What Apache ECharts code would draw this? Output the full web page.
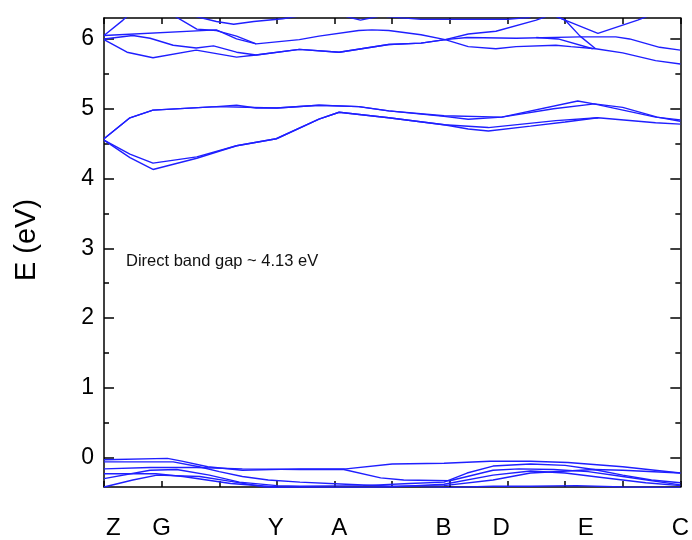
<!DOCTYPE html>
<html>
<head>
<meta charset="utf-8">
<script src="https://cdn.jsdelivr.net/npm/echarts@6/dist/echarts.min.js"></script>
<style>
  html, body { margin: 0; padding: 0; background: #fff; }
  #chart { width: 692px; height: 540px; }
</style>
</head>
<body>
<div id="chart"></div>
<script>
// high symmetry points along the k path (x = path coordinate)
var kLabels = ['Z', 'G', 'Y', 'A', 'B', 'D', 'E', 'C'];
var kPos = [0.16, 1.0, 2.98, 4.08, 5.89, 6.89, 8.36, 10];
var xTicks = [0, 1, 2, 3, 4, 5, 6, 7, 8, 9, 10];
var yMajor = [0, 1, 2, 3, 4, 5, 6];
var yMinor = [0.5, 1.5, 2.5, 3.5, 4.5, 5.5];
var gapText = 'Direct band gap ~ 4.13 eV';

// bands as [k, E (eV)]
// upper conduction bands
var bandC1 = [[0, 6.05], [1.95, 6.13], [2.3, 6.0], [2.64, 5.93], [3.39, 5.99], [3.73, 6.04], [4.42, 6.12], [4.65, 6.13], [4.94, 6.12], [5.5, 6.06], [5.92, 5.99], [6.32, 6.07], [6.8, 6.11], [7.5, 6.27], [7.8, 6.36]];
var bandC2 = [[0, 5.99], [0.4, 5.81], [0.85, 5.73], [1.6, 5.84], [2.3, 5.74], [2.64, 5.77], [3.39, 5.85], [4.08, 5.81], [4.94, 5.92], [5.5, 5.94], [5.92, 5.99], [6.32, 5.89], [6.8, 5.86], [7.15, 5.89], [7.84, 5.91], [8.1, 5.89], [8.53, 5.86], [9.0, 5.80], [9.57, 5.69], [10, 5.64]];
var bandC3 = [[0, 6.0], [0.5, 6.05], [0.8, 6.01], [1.2, 5.91], [1.6, 5.87], [1.9, 5.9], [2.3, 5.81], [2.64, 5.77], [3.39, 5.85], [4.08, 5.81], [4.94, 5.92], [5.5, 5.94], [5.92, 5.99], [6.3, 6.02], [7.15, 6.01], [8.26, 6.03], [8.88, 6.03], [9.12, 6.0], [9.64, 5.88], [10, 5.84]];
var bandC4 = [[0, 6.05], [0.33, 6.27], [0.5, 6.4]];
var bandC5 = [[1.2, 6.34], [1.61, 6.14], [1.95, 6.12], [2.3, 6.04], [2.64, 5.93]];
var bandC6 = [[1.5, 6.34], [1.95, 6.25], [2.25, 6.21], [2.6, 6.25], [3.1, 6.29], [3.4, 6.33]];
var bandC7 = [[4.2, 6.32], [4.45, 6.27], [4.75, 6.32]];
var bandC8 = [[4.9, 6.32], [5.5, 6.28], [6.0, 6.28], [7.0, 6.28], [7.4, 6.31]];
var bandC9 = [[7.6, 6.4], [8.0, 6.27], [8.57, 6.08], [9.26, 6.27], [9.6, 6.38]];
var bandC10 = [[7.75, 6.36], [8.0, 6.27], [8.26, 6.04], [8.53, 5.86]];
var bandC11 = [[7.5, 6.02], [7.88, 6.0], [8.48, 5.86]];
// lowest conduction bands
var bandM1 = [[0, 4.57], [0.45, 4.87], [0.85, 4.98], [1.95, 5.03], [3.0, 5.01], [3.73, 5.05], [4.42, 5.03], [4.94, 4.97], [5.9, 4.90], [6.9, 4.88], [8.22, 5.11], [8.5, 5.07], [9.57, 4.88], [10, 4.84]];
var bandM2 = [[0, 4.57], [0.45, 4.87], [0.85, 4.98], [1.95, 5.03], [2.3, 5.05], [2.64, 5.01], [3.0, 5.01], [3.73, 5.05], [4.42, 5.03], [4.94, 4.97], [5.9, 4.89], [6.32, 4.85], [6.9, 4.88], [7.8, 5.0], [8.51, 5.07], [9.0, 5.02], [9.6, 4.88], [10, 4.82]];
var bandM3 = [[0, 4.55], [0.45, 4.30], [0.85, 4.13], [1.61, 4.29], [2.3, 4.47], [2.99, 4.57], [3.73, 4.85], [4.08, 4.95], [4.94, 4.87], [5.9, 4.77], [6.67, 4.73], [7.84, 4.83], [8.57, 4.87], [9.57, 4.80], [10, 4.78]];
var bandM4 = [[0, 4.55], [0.45, 4.35], [0.85, 4.22], [1.61, 4.31], [2.3, 4.47], [2.99, 4.57], [3.73, 4.85], [4.08, 4.95], [4.94, 4.87], [5.9, 4.77], [6.32, 4.71], [6.67, 4.68], [7.4, 4.75], [8.0, 4.81], [8.57, 4.87]];
// valence bands
var bandV1 = [[0, -0.03], [1.1, -0.01], [1.35, -0.05], [1.8, -0.13], [2.4, -0.18], [3.4, -0.16], [4.2, -0.16], [5.0, -0.09], [5.9, -0.08], [6.7, -0.05], [7.4, -0.05], [8.05, -0.07], [9.0, -0.13], [10, -0.22]];
var bandV2 = [[0, -0.06], [1.2, -0.06], [1.65, -0.13], [2.0, -0.2], [2.4, -0.27], [2.85, -0.32], [3.4, -0.35], [4.2, -0.38], [5.0, -0.41], [5.9, -0.40], [6.75, -0.32], [7.4, -0.22], [8.05, -0.19], [8.5, -0.17], [9.0, -0.18], [10, -0.22]];
var bandV3 = [[0, -0.16], [0.8, -0.14], [1.6, -0.14], [2.4, -0.16], [3.4, -0.17], [4.16, -0.17], [4.8, -0.29], [5.2, -0.32], [6.0, -0.33], [6.75, -0.18], [7.2, -0.16], [7.8, -0.17], [8.4, -0.2], [9.0, -0.27], [10, -0.39]];
var bandV4 = [[0, -0.30], [0.8, -0.18], [1.26, -0.17], [1.83, -0.25], [2.35, -0.35], [3.0, -0.40], [3.4, -0.41], [4.5, -0.40], [5.3, -0.37], [5.9, -0.35], [6.3, -0.22], [6.75, -0.12], [7.4, -0.09], [8.0, -0.11], [8.5, -0.17], [9.0, -0.25], [9.5, -0.32], [10, -0.36]];
var bandV5 = [[0, -0.23], [0.9, -0.23], [1.37, -0.27], [2.2, -0.37], [3.0, -0.42], [4.0, -0.43], [5.0, -0.42], [5.9, -0.38], [6.75, -0.25], [7.4, -0.19], [8.0, -0.22], [8.6, -0.28], [9.4, -0.36], [10, -0.40]];
var bandV6 = [[0, -0.42], [0.5, -0.32], [0.92, -0.25], [1.66, -0.27], [2.2, -0.34], [2.8, -0.42], [3.4, -0.44], [4.5, -0.45], [5.5, -0.44], [6.75, -0.41], [7.4, -0.41], [8.2, -0.40], [9.0, -0.42], [10, -0.43]];

var bands = [bandC1, bandC2, bandC3, bandC4, bandC5, bandC6, bandC7, bandC8, bandC9, bandC10, bandC11,
  bandM1, bandM2, bandM3, bandM4,
  bandV1, bandV2, bandV3, bandV4, bandV5, bandV6];

var font = 'Liberation Sans, Arial, sans-serif';
var black = '#000';

function xAxisOf(pos) {
  return {
    type: 'value', position: pos, min: 0, max: 10,
    axisLine: { show: true, onZero: false, lineStyle: { color: black, width: 1.5 } },
    axisTick: { show: true, inside: true, length: 6, customValues: xTicks, lineStyle: { color: black, width: 1.5 } },
    axisLabel: pos === 'bottom' ? {
      show: true, customValues: kPos, margin: 29, fontSize: 24, color: black, fontFamily: font,
      formatter: function (v) { return kLabels[kPos.indexOf(v)]; }
    } : { show: false },
    splitLine: { show: false }
  };
}

function yAxisOf(pos, ticks, len, labels, line) {
  return {
    type: 'value', position: pos, min: -0.42, max: 6.3,
    axisLine: { show: line, onZero: false, lineStyle: { color: black, width: 1.5 } },
    axisTick: { show: true, inside: true, length: len, customValues: ticks, lineStyle: { color: black, width: 1.5 } },
    axisLabel: labels ? { show: true, customValues: ticks, margin: 10, fontSize: 23, color: black, fontFamily: font } : { show: false },
    splitLine: { show: false }
  };
}

var chart = echarts.init(document.getElementById('chart'));
var option = {
  animation: false,
  backgroundColor: '#fff',
  grid: { left: 104, top: 18, right: 9, bottom: 53 },
  xAxis: [xAxisOf('bottom'), xAxisOf('top')],
  yAxis: [
    yAxisOf('left', yMajor, 10, true, true),
    yAxisOf('left', yMinor, 5, false, false),
    yAxisOf('right', yMajor, 10, false, true),
    yAxisOf('right', yMinor, 5, false, false)
  ],
  graphic: [
    {
      type: 'text', x: 27, y: 240, rotation: Math.PI / 2,
      style: { text: 'E (eV)', fontSize: 29, fontFamily: font, fill: black, align: 'center', verticalAlign: 'middle' }
    },
    {
      type: 'text', x: 126, y: 261.5,
      style: { text: gapText, fontSize: 16.5, fontFamily: font, fill: '#111', align: 'left', verticalAlign: 'middle' }
    }
  ],
  series: bands.map(function (b) {
    return {
      type: 'line', data: b, showSymbol: false, silent: true, clip: true,
      xAxisIndex: 0, yAxisIndex: 0,
      lineStyle: { color: '#1f1fff', width: 1.4 }
    };
  })
};
chart.setOption(option);
</script>
</body>
</html>
